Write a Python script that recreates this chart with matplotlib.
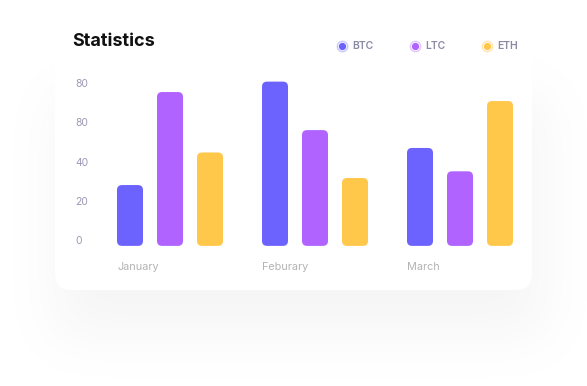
import numpy as np
import matplotlib
matplotlib.use("Agg")
import matplotlib.pyplot as plt
from matplotlib.patches import FancyBboxPatch

plt.rcParams['font.family'] = ['Inter', 'DejaVu Sans']

# data
months = ["January", "Feburary", "March"]
series = ["BTC", "LTC", "ETH"]
btc = [28, 80.7, 46.9]
ltc = [75.4, 56, 35]
eth = [44.6, 31.6, 70.8]
tick_values = [0, 20, 40, 60, 80]
tick_labels = ["0", "20", "40", "80", "80"]

colors = ["#6c63ff", "#b163ff", "#ffc84a"]
rings = ["#c9c6ff", "#e2c6ff", "#ffe6b0"]

W, H = 587, 386
fig = plt.figure(figsize=(W / 100, H / 100), dpi=100)
fig.patch.set_facecolor("white")

# background layer in pixel coordinates: soft shadow + white card
bg = fig.add_axes([0, 0, 1, 1])
bg.set_xlim(0, W)
bg.set_ylim(H, 0)
bg.axis("off")

yy, xx = np.mgrid[0:H, 0:W]
mask = ((xx > 55) & (xx < 545) & (yy > 95) & (yy < 335)).astype(float)
sigma = 26
k = np.arange(-3 * sigma, 3 * sigma + 1)
kern = np.exp(-k ** 2 / (2 * sigma ** 2))
kern /= kern.sum()
blur = np.apply_along_axis(lambda r: np.convolve(r, kern, mode="same"), 1, mask)
blur = np.apply_along_axis(lambda c: np.convolve(c, kern, mode="same"), 0, blur)
shadow = np.zeros((H, W, 4))
shadow[..., :3] = 0.55
shadow[..., 3] = blur * 0.08
bg.imshow(shadow, extent=(0, W, H, 0), zorder=0)

card = FancyBboxPatch((55, 20), 477, 270, boxstyle="round,pad=0,rounding_size=16",
                      facecolor="white", edgecolor="none", zorder=1)
bg.add_patch(card)

bg.text(72, 42, "Statistics", fontsize=13, fontweight="bold", color="#111111",
        va="center", ha="left", zorder=3)

# legend
leg_x = [342, 415, 487]
for i, name in enumerate(series):
    bg.scatter([leg_x[i]], [46], s=55, facecolor="white", edgecolor=rings[i],
               linewidth=1.0, zorder=3)
    bg.scatter([leg_x[i]], [46], s=18, color=colors[i], zorder=4)
    bg.text(leg_x[i] + 10, 46, name, fontsize=7.5, fontweight="semibold",
            color="#8c89a6", va="center", ha="left", zorder=4)

# chart axes
px_per_group = 145.0
px_per_unit = 39.25 / 20
x_left, x_right = 100, 530
y_low, y_high = -5, 90
zero_px = 240
left_units = (x_left - 170) / px_per_group
right_units = (x_right - 170) / px_per_group
top_px = zero_px - y_high * px_per_unit
bot_px = zero_px - y_low * px_per_unit

ax = fig.add_axes([x_left / W, (H - bot_px) / H, (x_right - x_left) / W, (bot_px - top_px) / H])
ax.set_xlim(left_units, right_units)
ax.set_ylim(y_low, y_high)
ax.patch.set_alpha(0)
for s in ax.spines.values():
    s.set_visible(False)

offset = 40 / px_per_group
width = 26 / px_per_group
drop = 3
x = np.arange(len(months))
for i, vals in enumerate([btc, ltc, eth]):
    bars = ax.bar(x + (i - 1) * offset, np.array(vals) + drop, width=width,
                  bottom=-drop, color=colors[i])
    for b in bars:
        b.set_visible(False)
        r = 5 / px_per_group
        patch = FancyBboxPatch((b.get_x(), b.get_y()), b.get_width(), b.get_height(),
                               boxstyle=f"round,pad=0,rounding_size={r}",
                               mutation_aspect=px_per_group / px_per_unit,
                               facecolor=colors[i], edgecolor="none", zorder=3)
        ax.add_patch(patch)

ax.set_yticks(tick_values, tick_labels)
ax.tick_params(axis="y", length=0, pad=18, labelsize=7.5, labelcolor="#9c99b6")
for lab in ax.get_yticklabels():
    lab.set_horizontalalignment("left")

ax.set_xticks(x - offset - width / 2, months)
ax.tick_params(axis="x", length=0, pad=9, labelsize=7.8, labelcolor="#b3b3b3")
for lab in ax.get_xticklabels():
    lab.set_horizontalalignment("left")

plt.savefig("out.png", dpi=100)
